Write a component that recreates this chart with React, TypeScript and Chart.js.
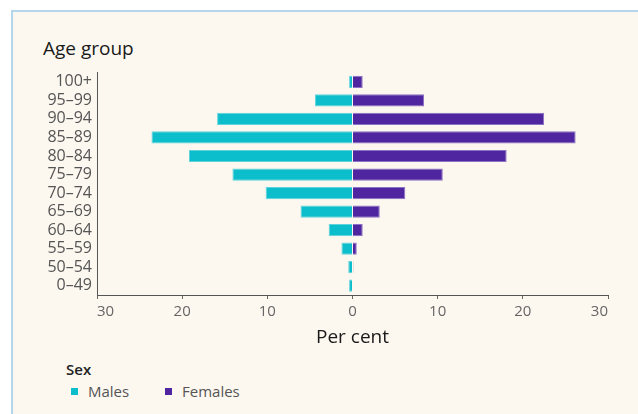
import React, { useEffect, useRef } from "react";
import { Chart, registerables } from "chart.js";

Chart.register(...registerables);

const ageGroups = ["100+", "95–99", "90–94", "85–89", "80–84", "75–79", "70–74", "65–69", "60–64", "55–59", "50–54", "0–49"];
const malesPct = [0.4, 4.4, 15.9, 23.6, 19.2, 14.1, 10.2, 6.1, 2.8, 1.3, 0.5, 0.4];
const femalesPct = [1.2, 8.4, 22.5, 26.2, 18.1, 10.6, 6.2, 3.2, 1.2, 0.5, 0.1, 0];
const seriesNames = ["Males", "Females"];
const seriesColors = ["#0cbecb", "#4f26a0"];
const seriesBorders = ["#5fd3dc", "#8a72c4"];
const xTickValues = [-30, -20, -10, 0, 10, 20, 30];

const FONT = "'Open Sans', 'Noto Sans', sans-serif";

export default function App() {
  const canvasRef = useRef<HTMLCanvasElement | null>(null);

  useEffect(() => {
    const canvas = canvasRef.current;
    if (!canvas) return;
    const chart = new Chart(canvas, {
      type: "bar",
      data: {
        labels: ageGroups,
        datasets: [
          {
            label: seriesNames[0],
            data: malesPct.map((v) => -v),
            backgroundColor: seriesColors[0],
            borderColor: seriesBorders[0],
            borderWidth: 1,
            barPercentage: 0.66,
            categoryPercentage: 1,
          },
          {
            label: seriesNames[1],
            data: femalesPct,
            backgroundColor: seriesColors[1],
            borderColor: seriesBorders[1],
            borderWidth: 1,
            barPercentage: 0.66,
            categoryPercentage: 1,
          },
        ],
      },
      options: {
        indexAxis: "y",
        animation: false,
        responsive: false,
        devicePixelRatio: 1,
        layout: { padding: { top: 10, right: 22, bottom: 0, left: 0 } },
        plugins: {
          legend: { display: false },
          tooltip: { enabled: false },
          title: { display: false },
        },
        scales: {
          x: {
            type: "linear",
            stacked: true,
            min: -30,
            max: 30,
            afterBuildTicks: (scale: any) => {
              scale.ticks = xTickValues.map((v) => ({ value: v }));
            },
            afterFit: (scale: any) => {
              scale.height = 63;
            },
            ticks: {
              align: "inner",
              padding: 4,
              color: "#666",
              font: { family: FONT, size: 15 },
              callback: (v: any) => String(Math.abs(Number(v))),
            },
            grid: {
              display: true,
              drawOnChartArea: false,
              drawTicks: true,
              tickLength: 4,
              color: "#666",
            },
            border: { display: true, color: "#555", width: 1 },
            title: {
              display: true,
              text: "Per cent",
              color: "#1a1a1a",
              font: { family: FONT, size: 19 },
              padding: { top: 0, bottom: 9 },
            },
          },
          y: {
            type: "category",
            stacked: true,
            afterFit: (scale: any) => {
              scale.width = 77;
            },
            ticks: {
              padding: 5,
              color: "#555",
              font: { family: FONT, size: 16 },
              autoSkip: false,
            },
            grid: { display: false, drawTicks: false },
            border: { display: true, color: "#555", width: 1 },
          },
        },
      },
    } as any);
    return () => chart.destroy();
  }, []);

  return (
    <div
      style={{
        position: "fixed",
        left: 0,
        top: 0,
        width: 638,
        height: 414,
        overflow: "hidden",
        background: "#ffffff",
        fontFamily: FONT,
      }}
    >
      <div
        style={{
          position: "absolute",
          left: 11,
          top: 10,
          width: 700,
          height: 500,
          borderTop: "2px solid #b3d6ec",
          borderLeft: "2px solid #b3d6ec",
          background: "#fcf8f0",
        }}
      />
      <div
        style={{
          position: "absolute",
          left: 43,
          top: 36,
          lineHeight: "24px",
          fontSize: 19,
          color: "#1a1a1a",
          whiteSpace: "nowrap",
        }}
      >
        Age group
      </div>
      <canvas
        ref={canvasRef}
        width={610}
        height={300}
        style={{ position: "absolute", left: 20, top: 58, width: 610, height: 300 }}
      />
      <div
        style={{
          position: "absolute",
          left: 66,
          top: 359,
          lineHeight: "20px",
          fontSize: 15,
          fontWeight: 600,
          color: "#222",
        }}
      >
        Sex
      </div>
      {seriesNames.map((name, i) => (
        <div
          key={name}
          style={{
            position: "absolute",
            left: i === 0 ? 71 : 165,
            top: 381,
            height: 20,
            display: "flex",
            alignItems: "center",
            whiteSpace: "nowrap",
          }}
        >
          <span
            style={{
              display: "inline-block",
              width: 7,
              height: 7,
              background: seriesColors[i],
              marginRight: 10,
            }}
          />
          <span style={{ fontSize: 15, color: "#555", lineHeight: "20px" }}>{name}</span>
        </div>
      ))}
    </div>
  );
}
